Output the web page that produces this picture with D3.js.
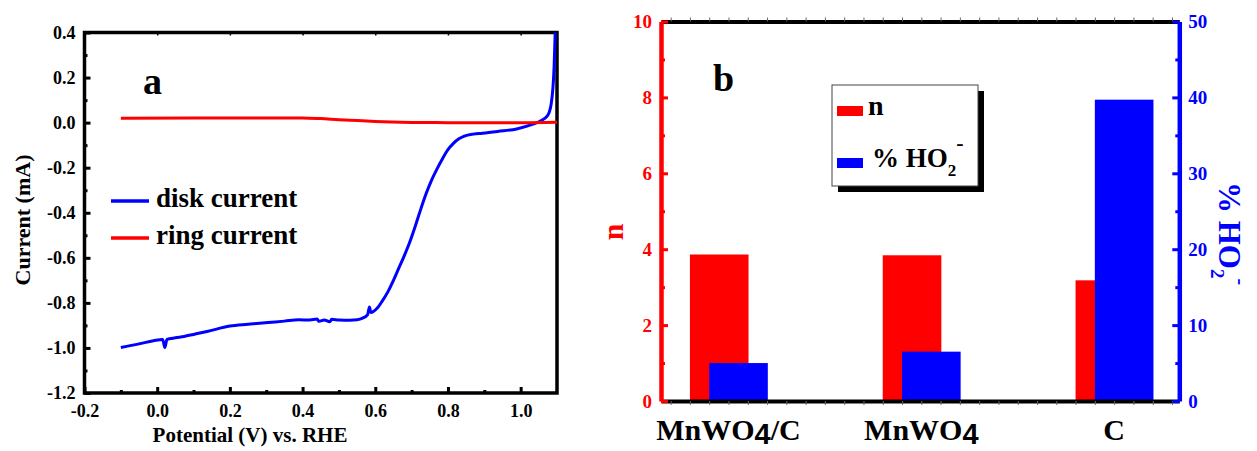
<!DOCTYPE html>
<html>
<head>
<meta charset="utf-8">
<script src="https://cdn.jsdelivr.net/npm/d3@7"></script>
<style>
body { margin: 0; background: #fff; }
svg { display: block; font-family: 'Liberation Serif', 'Times New Roman', serif; }
</style>
</head>
<body>
<svg id="chart" width="1257" height="451"></svg>
<script>
// panel a: RRDE sweep
var diskPotential = [-0.1, -0.05, -0.01, 0.015, 0.021, 0.027, 0.05, 0.074, 0.1, 0.137, 0.2, 0.25, 0.305, 0.35, 0.389, 0.42, 0.44, 0.445, 0.46, 0.475, 0.48, 0.5, 0.53, 0.55, 0.565, 0.579, 0.584, 0.588, 0.605, 0.62, 0.635, 0.65, 0.665, 0.68, 0.695, 0.71, 0.725, 0.74, 0.755, 0.77, 0.785, 0.8, 0.815, 0.83, 0.845, 0.87, 0.895, 0.937, 0.989, 1.032, 1.053, 1.074, 1.084, 1.092, 1.095];
var diskCurrent = [-0.998, -0.982, -0.968, -0.962, -0.998, -0.962, -0.955, -0.949, -0.940, -0.927, -0.903, -0.895, -0.887, -0.881, -0.875, -0.876, -0.872, -0.882, -0.876, -0.884, -0.873, -0.876, -0.877, -0.875, -0.868, -0.852, -0.818, -0.843, -0.824, -0.79, -0.75, -0.70, -0.645, -0.59, -0.53, -0.46, -0.385, -0.315, -0.255, -0.205, -0.16, -0.12, -0.092, -0.072, -0.06, -0.051, -0.047, -0.039, -0.028, -0.008, 0.006, 0.031, 0.083, 0.245, 0.4];
var ringPotential = [-0.1, 0.1, 0.3, 0.4, 0.45, 0.5, 0.55, 0.6, 0.7, 0.8, 1.0, 1.1];
var ringCurrent = [0.019, 0.020, 0.021, 0.021, 0.018, 0.013, 0.009, 0.005, 0.001, 0.0, 0.0, 0.002];
var xTicksA = [-0.2, 0, 0.2, 0.4, 0.6, 0.8, 1.0];
var xMinorA = [-0.1, 0.1, 0.3, 0.5, 0.7, 0.9];
var yTicksA = [0.4, 0.2, 0, -0.2, -0.4, -0.6, -0.8, -1.0, -1.2];
var yMinorA = [0.3, 0.1, -0.1, -0.3, -0.5, -0.7, -0.9, -1.1];

// panel b: electron number and peroxide yield
var catalysts = ["MnWO4/C", "MnWO4", "C"];
var nValues = [3.86, 3.84, 3.18];
var ho2Values = [5.0, 6.5, 39.7];
var nTicks = [0, 2, 4, 6, 8, 10];
var nMinor = [1, 3, 5, 7, 9];
var ho2Ticks = [0, 10, 20, 30, 40, 50];
var ho2Minor = [5, 15, 25, 35, 45];

var serif = "'Liberation Serif', 'Times New Roman', serif";
var svg = d3.select("#chart");
var fmt = function(d) { return d.toFixed(1); };

function styleAxis(g, size, color) {
	g.attr("font-family", serif).attr("font-size", size).attr("font-weight", "bold");
	g.selectAll(".tick line").attr("stroke", color).attr("stroke-width", 3);
	g.selectAll(".tick text").attr("fill", color);
}

// ---------- panel a ----------
var xA = d3.scaleLinear().domain([-0.2, 1.1]).range([84.5, 557]),
	yA = d3.scaleLinear().domain([-1.2, 0.4]).range([393, 32.5]);

var gA = svg.append("g");

var axB = gA.append("g").attr("transform", "translate(0," + yA(-1.2) + ")")
	.call(d3.axisBottom(xA).tickValues(xTicksA).tickFormat(fmt).tickSize(-6).tickPadding(11));
axB.select(".domain").remove();
styleAxis(axB, 18, "#000");

gA.append("g").attr("transform", "translate(0," + yA(-1.2) + ")")
	.call(d3.axisBottom(xA).tickValues(xMinorA).tickFormat("").tickSize(-3))
	.call(function(g) { g.select(".domain").remove(); styleAxis(g, 18, "#000"); });

gA.append("g").attr("transform", "translate(0," + yA(0.4) + ")")
	.call(d3.axisTop(xA).tickValues(xTicksA).tickFormat("").tickSize(-3))
	.call(function(g) { g.select(".domain").remove(); styleAxis(g, 18, "#000"); g.selectAll(".tick line").attr("stroke-width", 1.5); });

var axL = gA.append("g").attr("transform", "translate(" + xA(-0.2) + ",0)")
	.call(d3.axisLeft(yA).tickValues(yTicksA).tickFormat(fmt).tickSize(-6).tickPadding(9));
axL.select(".domain").remove();
styleAxis(axL, 18, "#000");

gA.append("g").attr("transform", "translate(" + xA(-0.2) + ",0)")
	.call(d3.axisLeft(yA).tickValues(yMinorA).tickFormat("").tickSize(-3))
	.call(function(g) { g.select(".domain").remove(); styleAxis(g, 18, "#000"); });

gA.append("rect")
	.attr("x", xA(-0.2)).attr("y", yA(0.4))
	.attr("width", xA(1.1) - xA(-0.2)).attr("height", yA(-1.2) - yA(0.4))
	.attr("fill", "none").attr("stroke", "#000").attr("stroke-width", 3.5);

var lineA = d3.line()
	.curve(d3.curveMonotoneX)
	.x(function(d) { return xA(d[0]); })
	.y(function(d) { return yA(d[1]); });

gA.append("path")
	.datum(d3.zip(diskPotential, diskCurrent))
	.attr("d", lineA)
	.attr("fill", "none").attr("stroke", "#0000ff").attr("stroke-width", 3);

gA.append("path")
	.datum(d3.zip(ringPotential, ringCurrent))
	.attr("d", lineA)
	.attr("fill", "none").attr("stroke", "#ff0000").attr("stroke-width", 3);

// legend a
var legA = [{label: "disk current", color: "#0000ff"}, {label: "ring current", color: "#ff0000"}];
var legItem = gA.selectAll(".leg-a").data(legA).enter().append("g")
	.attr("class", "leg-a")
	.attr("transform", function(d, i) { return "translate(111," + (201 + i * 37) + ")"; });
legItem.append("line").attr("x1", 0).attr("x2", 38)
	.attr("stroke", function(d) { return d.color; }).attr("stroke-width", 3.5);
legItem.append("text").attr("x", 45).attr("y", 6)
	.attr("font-family", serif).attr("font-weight", "bold").attr("font-size", 27)
	.text(function(d) { return d.label; });

gA.append("text").attr("x", 143).attr("y", 94)
	.attr("font-family", serif).attr("font-weight", "bold").attr("font-size", 38).text("a");

gA.append("text").attr("x", 250).attr("y", 442)
	.attr("text-anchor", "middle")
	.attr("font-family", serif).attr("font-weight", "bold").attr("font-size", 21)
	.text("Potential (V) vs. RHE");

gA.append("text").attr("transform", "translate(30,220) rotate(-90)")
	.attr("text-anchor", "middle")
	.attr("font-family", serif).attr("font-weight", "bold").attr("font-size", 22)
	.text("Current (mA)");

// ---------- panel b ----------
var xB = d3.scaleLinear().domain([0.65, 3.338]).range([661, 1179.3]),
	yN = d3.scaleLinear().domain([0, 10]).range([401, 21.5]),
	yH = d3.scaleLinear().domain([0, 50]).range([401, 21.5]);

var barW = 0.304;
var gB = svg.append("g");

gB.selectAll(".bar-n").data(nValues).enter().append("rect")
	.attr("class", "bar-n")
	.attr("x", function(d, i) { return xB(i + 1 - 0.2); })
	.attr("width", xB(barW) - xB(0))
	.attr("y", function(d) { return yN(d); })
	.attr("height", function(d) { return yN(0) - yN(d); })
	.attr("fill", "#ff0000");

gB.selectAll(".bar-h").data(ho2Values).enter().append("rect")
	.attr("class", "bar-h")
	.attr("x", function(d, i) { return xB(i + 1 - 0.1); })
	.attr("width", xB(barW) - xB(0))
	.attr("y", function(d) { return yH(d); })
	.attr("height", function(d) { return yH(0) - yH(d); })
	.attr("fill", "#0000ff");

// top and bottom frame with small ticks
[yN(0), yN(10)].forEach(function(yy, k) {
	var ax = k === 0 ? d3.axisBottom(xB) : d3.axisTop(xB);
	gB.append("g").attr("transform", "translate(0," + yy + ")")
		.call(ax.ticks(30).tickFormat("").tickSize(4).tickSizeOuter(0))
		.call(function(g) {
			g.select(".domain").attr("stroke", "#000").attr("stroke-width", 4);
			g.selectAll(".tick line").attr("stroke", "#666").attr("stroke-width", 1);
		});
});

var axN = gB.append("g").attr("transform", "translate(" + xB.range()[0] + ",0)")
	.call(d3.axisLeft(yN).tickValues(nTicks).tickSize(-7).tickSizeOuter(0).tickPadding(9));
axN.select(".domain").attr("stroke", "#ff0000").attr("stroke-width", 4.5);
styleAxis(axN, 19, "#ff0000");
gB.append("g").attr("transform", "translate(" + xB.range()[0] + ",0)")
	.call(d3.axisLeft(yN).tickValues(nMinor).tickFormat("").tickSize(-4).tickSizeOuter(0))
	.call(function(g) { g.select(".domain").remove(); styleAxis(g, 19, "#ff0000"); });

var axH = gB.append("g").attr("transform", "translate(" + xB.range()[1] + ",0)")
	.call(d3.axisRight(yH).tickValues(ho2Ticks).tickSize(-7).tickSizeOuter(0).tickPadding(9));
axH.select(".domain").attr("stroke", "#0000ff").attr("stroke-width", 4.5);
styleAxis(axH, 19, "#0000ff");
gB.append("g").attr("transform", "translate(" + xB.range()[1] + ",0)")
	.call(d3.axisRight(yH).tickValues(ho2Minor).tickFormat("").tickSize(-4).tickSizeOuter(0))
	.call(function(g) { g.select(".domain").remove(); styleAxis(g, 19, "#0000ff"); });

// category labels, the 4 is set in a sans face like the original
var cat = gB.selectAll(".cat").data(catalysts).enter().append("text")
	.attr("class", "cat")
	.attr("x", function(d, i) { return xB(i + 1); })
	.attr("y", 440)
	.attr("text-anchor", "middle")
	.attr("font-family", serif).attr("font-weight", "bold").attr("font-size", 30);
cat.each(function(d) {
	var t = d3.select(this), parts = d.split("4");
	t.append("tspan").text(parts[0]);
	if (parts.length > 1) {
		t.append("tspan").attr("font-family", "'Liberation Sans', Arial, sans-serif")
			.attr("font-size", 29).attr("dy", 4).text("4");
		if (parts[1]) t.append("tspan").attr("dy", -4).text(parts[1]);
	}
});

gB.append("text").attr("x", 713).attr("y", 91)
	.attr("font-family", serif).attr("font-weight", "bold").attr("font-size", 38).text("b");

// legend b
gB.append("rect").attr("x", 838).attr("y", 91).attr("width", 146).attr("height", 101).attr("fill", "#000");
gB.append("rect").attr("x", 832).attr("y", 85).attr("width", 146).attr("height", 101)
	.attr("fill", "#fff").attr("stroke", "#444").attr("stroke-width", 1);
gB.append("rect").attr("x", 837).attr("y", 106).attr("width", 26).attr("height", 10).attr("fill", "#ff0000");
gB.append("rect").attr("x", 837).attr("y", 158).attr("width", 26).attr("height", 10).attr("fill", "#0000ff");
gB.append("text").attr("x", 868).attr("y", 115)
	.attr("font-family", serif).attr("font-weight", "bold").attr("font-size", 28).text("n");
var ho2Leg = gB.append("text").attr("x", 872).attr("y", 167)
	.attr("font-family", serif).attr("font-weight", "bold").attr("font-size", 27);
ho2Leg.append("tspan").text("% HO");
ho2Leg.append("tspan").attr("font-size", 17).attr("dy", 9).text("2");
ho2Leg.append("tspan").attr("font-size", 22).attr("dy", -26).text("-");

// axis titles
gB.append("text").attr("transform", "translate(623,232) rotate(-90)")
	.attr("text-anchor", "middle").attr("fill", "#ff0000")
	.attr("font-family", serif).attr("font-weight", "bold").attr("font-size", 30).text("n");

var ho2Title = gB.append("text").attr("transform", "translate(1219,182) rotate(90)")
	.attr("fill", "#0000ff")
	.attr("font-family", serif).attr("font-weight", "bold").attr("font-size", 31);
ho2Title.append("tspan").text("% HO");
ho2Title.append("tspan").attr("font-size", 19).attr("dy", 8).text("2");
ho2Title.append("tspan").attr("font-size", 20).attr("dy", -23).text("-");
</script>
</body>
</html>
